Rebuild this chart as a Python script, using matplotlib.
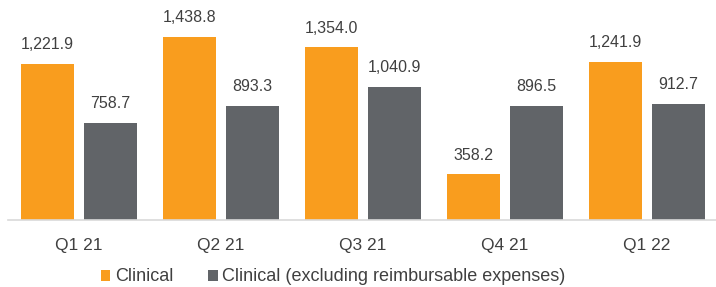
import matplotlib.pyplot as plt
import numpy as np

quarters = ['Q1 21', 'Q2 21', 'Q3 21', 'Q4 21', 'Q1 22']
clinical = [1221.9, 1438.8, 1354.0, 358.2, 1241.9]
clinical_excl = [758.7, 893.3, 1040.9, 896.5, 912.7]

orange = '#F99D1E'
grey = '#616468'
text_col = '#404040'

plt.rcParams['font.family'] = ['Liberation Sans', 'DejaVu Sans']

fig = plt.figure(figsize=(7.16, 2.87), dpi=100)
ax = fig.add_axes([8 / 716, 67 / 287, 710 / 716, 204 / 287])

x = np.arange(len(quarters))
w = 0.373
off = 0.222
b1 = ax.bar(x - off, clinical, w, color=orange, label='Clinical')
b2 = ax.bar(x + off, clinical_excl, w, color=grey,
            label='Clinical (excluding reimbursable expenses)')

for bars, vals in [(b1, clinical), (b2, clinical_excl)]:
    for rect, v in zip(bars, vals):
        ax.annotate(f'{v:,.1f}', (rect.get_x() + rect.get_width() / 2, v),
                    xytext=(0, 8.5), textcoords='offset points',
                    ha='center', va='bottom', fontsize=11.5, color=text_col)

ax.set_xlim(-0.5, 4.5)
ax.set_ylim(0, 1600)
ax.set_xticks(x)
ax.set_xticklabels(quarters, fontsize=12.5, color=text_col)
ax.tick_params(axis='x', length=0, pad=13)
ax.set_yticks([])
for s in ['top', 'right', 'left']:
    ax.spines[s].set_visible(False)
ax.spines['bottom'].set_color('#D9D9D9')
ax.spines['bottom'].set_linewidth(1.2)

fig.legend(loc='center', bbox_to_anchor=(0.465, 0.035), ncol=2, frameon=False,
           fontsize=13, handlelength=0.55, handleheight=0.55, handletextpad=0.25,
           columnspacing=1.9, labelcolor=text_col)

fig.savefig('out.png', dpi=100)
